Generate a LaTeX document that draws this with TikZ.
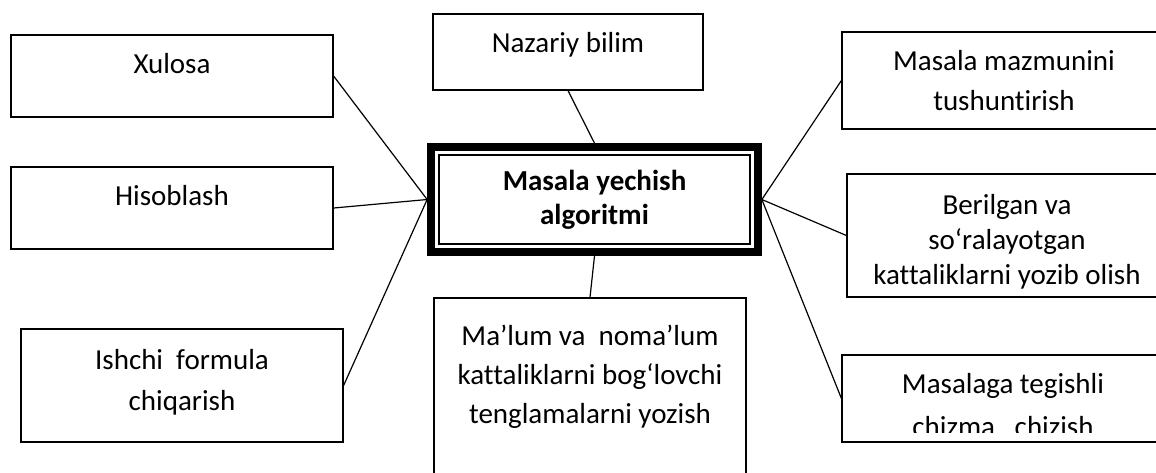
\documentclass[tikz,border=0pt]{standalone}
\usepackage{fontspec}
\setmainfont{Carlito}[Ligatures={TeX,NoCommon}]
\usetikzlibrary{positioning}
\tikzset{
  itembox/.style={rectangle, draw, line width=0.6pt, inner sep=0pt, minimum width=161pt},
  itemtext/.style={anchor=north, inner sep=0pt, align=center, yshift=-9.5pt,
                   font=\fontsize{14.5}{20.5}\selectfont},
  mainbox/.style={rectangle, draw, line width=3.85pt, inner sep=0pt, align=center,
                  minimum width=163.5pt, minimum height=52.5pt,
                  font=\fontsize{14.5}{17}\selectfont\bfseries},
  link/.style={line width=0.6pt},
}

\begin{document}
\begin{tikzpicture}[x=0.5pt, y=-0.5pt]
  \clip (0,0) rectangle (1156,472);

  % centre
  \node[mainbox] (alg) at (594.5,199.5) {Masala yechish\\algoritmi};
  \draw[line width=1.1pt] ([shift={(12,12)}]alg.north west) rectangle ([shift={(-12,-12)}]alg.south east);

  % left column
  \node[itembox, minimum height=41pt, label={[itemtext]north:Xulosa}] (xul) at (172,76) {};
  \node[itembox, minimum height=41pt, label={[itemtext]north:Hisoblash}] (hisob) at (172,208) {};
  \node[itembox, minimum height=56.5pt, label={[itemtext, yshift=-1pt]north:{Ishchi\ \ formula\\chiqarish}}] (ishchi) at (182,385.5) {};

  % top and bottom
  \node[itembox, minimum width=135pt, minimum height=38pt, label={[itemtext]north:Nazariy bilim}] (nazar) at (568,52) {};
  \node[itembox, minimum width=156pt, minimum height=101pt,
        label={[itemtext, yshift=-4pt, font=\fontsize{14.5}{19.5}\selectfont]north:{Ma’lum va\ \ noma’lum\\kattaliklarni bog‘lovchi\\tenglamalarni yozish}}] (malum) at (590,399) {};

  % right column
  \node[itembox, minimum width=162pt, minimum height=48.5pt,
        label={[itemtext, font=\fontsize{14.5}{20}\selectfont]north:{Masala mazmunini\\tushuntirish}}] (mazmun) at (1004,80.5) {};
  \node[itembox, minimum width=160pt, minimum height=61.5pt,
        label={[itemtext, yshift=-1pt, font=\fontsize{14.5}{17.5}\selectfont]north:{Berilgan va\\so‘ralayotgan\\kattaliklarni yozib olish}}] (beril) at (1007,235.5) {};
  \node[itembox, minimum height=43.5pt] (chiz) at (1003,398.5) {};
  \begin{scope}
    \clip (chiz.north west) rectangle (1156,432);
    \node[itemtext, font=\fontsize{14.5}{21.5}\selectfont] (chiztext) at (chiz.north) {Masalaga tegishli\\chizma\ \ \ chizish};
  \end{scope}

  % connectors
  \draw[link] (xul.east) -- (alg.west);
  \draw[link] (hisob.east) -- (alg.west);
  \draw[link] (ishchi.east) -- (alg.west);
  \draw[link] (nazar.south) -- (alg.north);
  \draw[link] (alg.south) -- (malum.north);
  \draw[link] (alg.east) -- (mazmun.west);
  \draw[link] (alg.east) -- (beril.west);
  \draw[link] (alg.east) -- (chiz.west);
\end{tikzpicture}
\end{document}
